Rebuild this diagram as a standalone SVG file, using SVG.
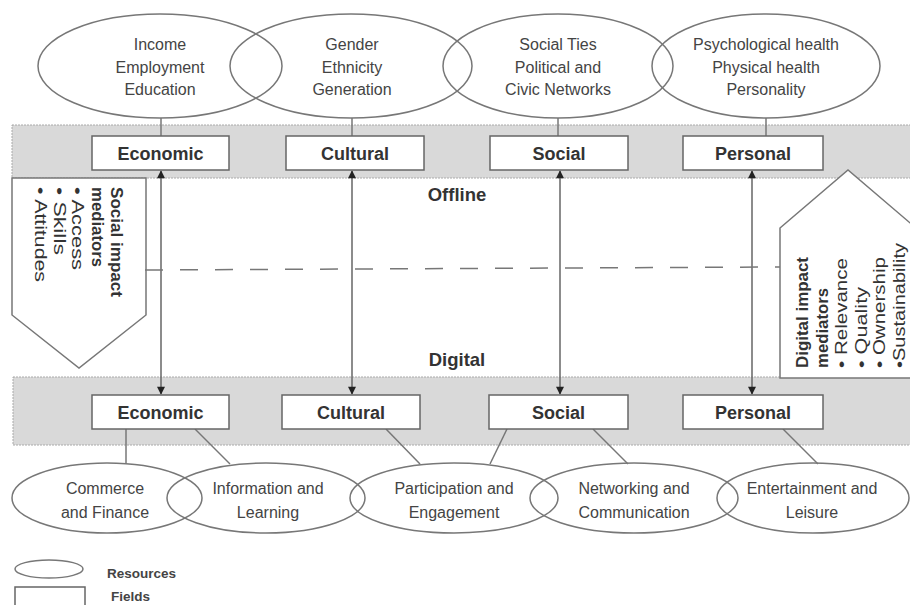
<svg xmlns="http://www.w3.org/2000/svg" width="910" height="605" viewBox="0 0 910 605">
<style>
.res{fill:#fff;stroke:#777;stroke-width:1.5}
.resT{fill:none;stroke:#777;stroke-width:1.5}
.fld{fill:#fff;stroke:#666;stroke-width:1.5}
.band{fill:#d9d9d9;stroke:#aaa;stroke-width:1;stroke-dasharray:2 1}
.t{font-family:"Liberation Sans",Arial,sans-serif;font-size:16px;fill:#444;text-anchor:middle}
.b{font-family:"Liberation Sans",Arial,sans-serif;font-size:18px;font-weight:bold;fill:#333;text-anchor:middle}
.m{font-family:"Liberation Sans",Arial,sans-serif;font-size:16.5px;fill:#333}
.mb{font-weight:bold}
.lg{font-family:"Liberation Sans",Arial,sans-serif;font-size:13.5px;font-weight:bold;fill:#444}
.ln{stroke:#777;stroke-width:1.5;fill:none}
.ar{stroke:#666;stroke-width:1.5;fill:none;marker-start:url(#ah);marker-end:url(#ah)}
.pent{fill:#fff;stroke:#777;stroke-width:1.5}
</style>
<defs>
<marker id="ah" viewBox="0 0 10 10" refX="9" refY="5" markerWidth="10" markerHeight="8" orient="auto-start-reverse" markerUnits="userSpaceOnUse">
<path d="M0,0 L10,5 L0,10 z" fill="#222"/>
</marker>
</defs>
<rect width="910" height="605" fill="#fff"/>

<!-- bands -->
<rect class="band" x="12" y="125" width="900" height="53"/>
<rect class="band" x="13" y="377" width="900" height="68"/>

<!-- top resources -->
<g id="res-economic-top">
<ellipse class="resT" cx="160" cy="66" rx="122" ry="52"/>
<text class="t" x="160" y="50">Income</text>
<text class="t" x="160" y="73">Employment</text>
<text class="t" x="160" y="95">Education</text>
</g>
<g id="res-cultural-top">
<ellipse class="resT" cx="351" cy="66" rx="121" ry="52"/>
<text class="t" x="352" y="50">Gender</text>
<text class="t" x="352" y="73">Ethnicity</text>
<text class="t" x="352" y="95">Generation</text>
</g>
<g id="res-social-top">
<ellipse class="resT" cx="558" cy="66" rx="115" ry="52"/>
<text class="t" x="558" y="50">Social Ties</text>
<text class="t" x="558" y="73">Political and</text>
<text class="t" x="558" y="95">Civic Networks</text>
</g>
<g id="res-personal-top">
<ellipse class="resT" cx="766" cy="66" rx="114" ry="52"/>
<text class="t" x="766" y="50">Psychological health</text>
<text class="t" x="766" y="73">Physical health</text>
<text class="t" x="766" y="95">Personality</text>
</g>

<!-- pentagons -->
<g id="social-mediators">
<polygon class="pent" points="12,178 146,178 146,315 79,368 12,315"/>
<g class="m">
<text class="mb" transform="translate(111,187) rotate(90)" textLength="110" lengthAdjust="spacingAndGlyphs">Social impact</text>
<text class="mb" transform="translate(92,187) rotate(90)" textLength="80" lengthAdjust="spacingAndGlyphs">mediators</text>
<text transform="translate(72,187) rotate(90)" textLength="83" lengthAdjust="spacingAndGlyphs">• Access</text>
<text transform="translate(54,187) rotate(90)" textLength="68" lengthAdjust="spacingAndGlyphs">• Skills</text>
<text transform="translate(35,187) rotate(90)" textLength="95" lengthAdjust="spacingAndGlyphs">• Attitudes</text>
</g>
</g>
<g id="digital-mediators">
<polygon class="pent" points="780,228 848,170 916,228 916,378 780,378"/>
<g class="m">
<text class="mb" transform="translate(808,368) rotate(-90)" textLength="111" lengthAdjust="spacingAndGlyphs">Digital impact</text>
<text class="mb" transform="translate(828,368) rotate(-90)" textLength="80" lengthAdjust="spacingAndGlyphs">mediators</text>
<text transform="translate(847,368) rotate(-90)" textLength="110" lengthAdjust="spacingAndGlyphs">• Relevance</text>
<text transform="translate(867,368) rotate(-90)" textLength="81" lengthAdjust="spacingAndGlyphs">• Quality</text>
<text transform="translate(885,368) rotate(-90)" textLength="111" lengthAdjust="spacingAndGlyphs">• Ownership</text>
<text transform="translate(905,368) rotate(-90)" textLength="125" lengthAdjust="spacingAndGlyphs">•Sustainability</text>
</g>
</g>

<!-- connectors -->
<g id="connectors">
<line class="ln" x1="161" y1="118" x2="161" y2="136"/>
<line class="ln" x1="352" y1="118" x2="352" y2="136"/>
<line class="ln" x1="558" y1="118" x2="558" y2="136"/>
<line class="ln" x1="766" y1="118" x2="766" y2="136"/>
<line class="ar" x1="161" y1="171" x2="161" y2="394"/>
<line class="ar" x1="352" y1="171" x2="352" y2="394"/>
<line class="ar" x1="560" y1="171" x2="560" y2="394"/>
<line class="ar" x1="752" y1="171" x2="752" y2="394"/>
<line x1="145" y1="270" x2="780" y2="267" stroke="#777" stroke-width="1.5" stroke-dasharray="18 17"/>
<line class="ln" x1="126" y1="429" x2="126" y2="463"/>
<line class="ln" x1="195" y1="429" x2="230" y2="464"/>
<line class="ln" x1="386" y1="429" x2="420" y2="464"/>
<line class="ln" x1="507" y1="429" x2="490" y2="464"/>
<line class="ln" x1="593" y1="429" x2="628" y2="464"/>
<line class="ln" x1="783" y1="429" x2="818" y2="464"/>
</g>

<!-- top fields -->
<g id="field-economic-off"><rect class="fld" x="92" y="136" width="137" height="34"/><text class="b" x="160.5" y="159.5">Economic</text></g>
<g id="field-cultural-off"><rect class="fld" x="286" y="136" width="138" height="34"/><text class="b" x="355" y="159.5">Cultural</text></g>
<g id="field-social-off"><rect class="fld" x="490" y="136" width="138" height="34"/><text class="b" x="559" y="159.5">Social</text></g>
<g id="field-personal-off"><rect class="fld" x="683" y="136" width="140" height="34"/><text class="b" x="753" y="159.5">Personal</text></g>

<text class="b" x="457" y="201" style="font-size:18.5px">Offline</text>
<text class="b" x="457" y="366" style="font-size:18.5px">Digital</text>

<!-- bottom fields -->
<g id="field-economic-dig"><rect class="fld" x="92" y="395" width="137" height="34"/><text class="b" x="160.5" y="418.5">Economic</text></g>
<g id="field-cultural-dig"><rect class="fld" x="282" y="395" width="138" height="34"/><text class="b" x="351" y="418.5">Cultural</text></g>
<g id="field-social-dig"><rect class="fld" x="489" y="395" width="139" height="34"/><text class="b" x="558.5" y="418.5">Social</text></g>
<g id="field-personal-dig"><rect class="fld" x="683" y="395" width="140" height="34"/><text class="b" x="753" y="418.5">Personal</text></g>

<!-- bottom resources -->
<g id="res-commerce">
<ellipse class="resT" cx="107" cy="498" rx="95" ry="35"/>
<text class="t" x="105" y="494">Commerce</text>
<text class="t" x="105" y="518">and Finance</text>
</g>
<g id="res-information">
<ellipse class="resT" cx="266" cy="498" rx="99" ry="35"/>
<text class="t" x="268" y="494">Information and</text>
<text class="t" x="268" y="518">Learning</text>
</g>
<g id="res-participation">
<ellipse class="resT" cx="454" cy="498" rx="104" ry="35"/>
<text class="t" x="454" y="494">Participation and</text>
<text class="t" x="454" y="518">Engagement</text>
</g>
<g id="res-networking">
<ellipse class="resT" cx="634" cy="498" rx="104" ry="35"/>
<text class="t" x="634" y="494">Networking and</text>
<text class="t" x="634" y="518">Communication</text>
</g>
<g id="res-entertainment">
<ellipse class="resT" cx="813" cy="498" rx="96" ry="35"/>
<text class="t" x="812" y="494">Entertainment and</text>
<text class="t" x="812" y="518">Leisure</text>
</g>

<!-- legend -->
<g id="legend">
<ellipse class="resT" cx="49" cy="569" rx="34" ry="9"/>
<text class="lg" x="107" y="578">Resources</text>
<rect class="fld" x="15" y="587" width="70" height="22"/>
<text class="lg" x="111" y="601">Fields</text>
</g>
</svg>
